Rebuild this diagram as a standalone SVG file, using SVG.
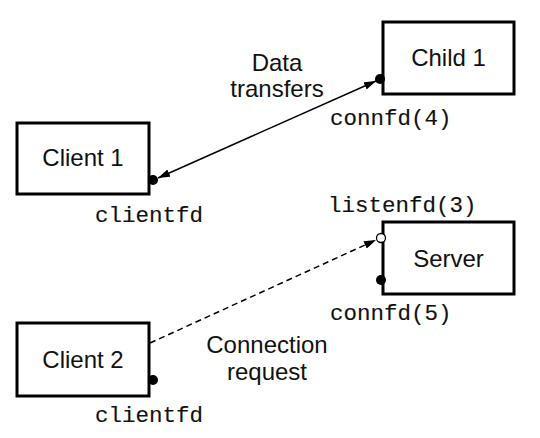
<svg xmlns="http://www.w3.org/2000/svg" width="540" height="438" viewBox="0 0 540 438">
<style>
.box{fill:#fff;stroke:#000;stroke-width:3}
.lbl{font-family:"Liberation Sans",Arial,sans-serif;font-size:24px;fill:#111;text-anchor:middle}
.mono{font-family:"Liberation Mono","Courier New",monospace;font-size:22.5px;fill:#111;stroke:#111;stroke-width:0.15}
.dot{fill:#000}
.odot{fill:#fff;stroke:#000;stroke-width:1.3}
.conn{stroke:#000;stroke-width:1.5;fill:none}
</style>
<defs>
<marker id="ah" viewBox="0 0 12 8" refX="12" refY="4" markerWidth="12" markerHeight="8" markerUnits="userSpaceOnUse" orient="auto-start-reverse">
<path d="M0,0 L12,4 L0,8 Z" fill="#000"/>
</marker>
</defs>
<g id="connectors">
<line class="conn" x1="158" y1="178" x2="376" y2="81" marker-start="url(#ah)" marker-end="url(#ah)"/>
<line class="conn" x1="150" y1="343" x2="376" y2="240" stroke-dasharray="6,4" marker-end="url(#ah)"/>
</g>
<g id="child1">
<rect class="box" x="383" y="22" width="131" height="72"/>
<text class="lbl" x="448.5" y="66">Child 1</text>
<circle class="dot" cx="380" cy="79" r="5"/>
<text class="mono" x="330" y="125">connfd(4)</text>
</g>
<g id="client1">
<rect class="box" x="17" y="123" width="132" height="71"/>
<text class="lbl" x="83" y="166">Client 1</text>
<circle class="dot" cx="153" cy="180" r="5"/>
<text class="mono" x="95" y="222">clientfd</text>
</g>
<g id="server">
<rect class="box" x="383" y="222" width="131" height="72"/>
<text class="lbl" x="448.5" y="267">Server</text>
<circle class="odot" cx="381" cy="238" r="4.5"/>
<circle class="dot" cx="381" cy="280" r="5"/>
<text class="mono" x="328" y="212">listenfd(3)</text>
<text class="mono" x="330" y="320">connfd(5)</text>
</g>
<g id="client2">
<rect class="box" x="17" y="323" width="132" height="73"/>
<text class="lbl" x="83" y="368">Client 2</text>
<circle class="dot" cx="153" cy="380" r="5"/>
<text class="mono" x="95" y="422">clientfd</text>
</g>
<g id="labels">
<text class="lbl" x="277" y="71">Data</text>
<text class="lbl" x="277" y="97">transfers</text>
<text class="lbl" x="267" y="353">Connection</text>
<text class="lbl" x="267" y="380">request</text>
</g>
</svg>
